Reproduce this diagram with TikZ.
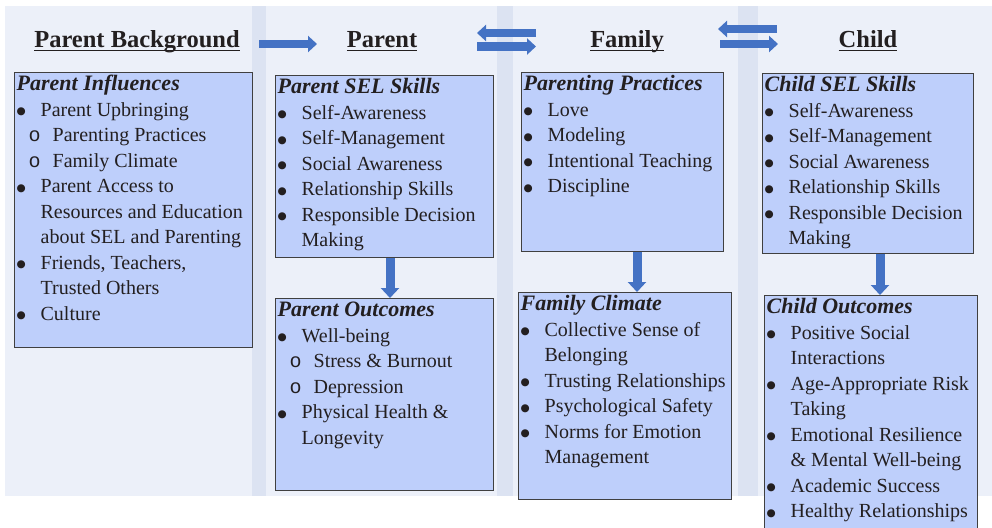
\documentclass[tikz,border=0pt]{standalone}
\usepackage{fontspec}
\setmainfont{Liberation Serif}
\newfontfamily\subfont{Liberation Mono}
\newfontfamily\dotfont{DejaVu Sans}
\usetikzlibrary{arrows.meta}
\definecolor{panelbg}{RGB}{236,240,249}
\definecolor{stripbg}{RGB}{220,227,242}
\definecolor{boxfill}{RGB}{190,207,251}
\definecolor{boxline}{RGB}{64,64,64}
\definecolor{arrowblue}{RGB}{68,114,196}
\definecolor{inktext}{RGB}{35,31,32}
\newcommand\bodyfont{\fontsize{20}{25.5}\selectfont}
\newcommand\ttl[1]{{\fontsize{22}{25.5}\selectfont\bfseries\itshape\strut #1}\par}
\newcommand\bigbul{\raisebox{1.5pt}{\dotfont\fontsize{10.5}{12}\selectfont ●}}
\newcommand\bi[1]{\makebox[24pt][l]{\bigbul}#1\par}
\newcommand\bc[1]{\hspace*{24pt}#1\par}
\newcommand\si[1]{\hspace*{12pt}\makebox[24pt][l]{\subfont o}#1\par}
\newcommand\hdr[1]{\setbox0\hbox{#1}\rlap{\rule[-3pt]{\wd0}{1.4pt}}\box0}
\newcommand\boxtext[3]{\parbox[t][#2][t]{#1}{\bodyfont #3}}
\begin{document}
\begin{tikzpicture}[x=1pt,y=-1pt,
  box/.style={draw=boxline, line width=1.3pt, fill=boxfill, inner xsep=2pt, inner ysep=0pt, anchor=north west, text=inktext},
  hdrs/.style={anchor=base, font=\fontsize{24.5}{29}\selectfont\bfseries, text=inktext, inner sep=0pt},
  harrow/.style={draw=arrowblue, line width=8.5pt, -{Triangle[length=9pt,width=16pt]}},
  varrow/.style={draw=arrowblue, line width=9pt, -{Triangle[length=10pt,width=18pt]}}]
\useasboundingbox (0,0) rectangle (992,527);
\clip (0,0) rectangle (992,527);
% background panels
\fill[panelbg] (5,6) rectangle (992,496);
\fill[stripbg] (252,6) rectangle (266,496);
\fill[stripbg] (497,6) rectangle (513,496);
\fill[stripbg] (738,6) rectangle (758,496);
% headers
\node[hdrs] (hpb) at (137,48) {\hdr{Parent Background}};
\node[hdrs] (hpa) at (382,48) {\hdr{Parent}};
\node[hdrs] (hfa) at (627,48) {\hdr{Family}};
\node[hdrs] (hch) at (868,48) {\hdr{Child}};
% header arrows
\coordinate (a1s) at (259,44); \coordinate (a1e) at (317,44);
\draw[harrow] (a1s) -- (a1e);
\coordinate (a2ts) at (536,33); \coordinate (a2te) at (477,33);
\coordinate (a2bs) at (477,46.5); \coordinate (a2be) at (536,46.5);
\draw[harrow] (a2ts) -- (a2te);
\draw[harrow] (a2bs) -- (a2be);
\coordinate (a3ts) at (777,29); \coordinate (a3te) at (718,29);
\coordinate (a3bs) at (720,44); \coordinate (a3be) at (778,44);
\draw[harrow] (a3ts) -- (a3te);
\draw[harrow] (a3bs) -- (a3be);
% boxes
\node[box] (pi) at (14,72) {\boxtext{234pt}{275pt}{%
\ttl{Parent Influences}
\bi{Parent Upbringing}
\si{Parenting Practices}
\si{Family Climate}
\bi{Parent Access to}
\bc{Resources and Education}
\bc{about SEL and Parenting}
\bi{Friends, Teachers,}
\bc{Trusted Others}
\bi{Culture}}};
\node[box] (pss) at (275,75) {\boxtext{214pt}{182pt}{%
\ttl{Parent SEL Skills}
\bi{Self-Awareness}
\bi{Self-Management}
\bi{Social Awareness}
\bi{Relationship Skills}
\bi{Responsible Decision}
\bc{Making}}};
\node[box] (po) at (275,298) {\boxtext{214pt}{192pt}{%
\ttl{Parent Outcomes}
\bi{Well-being}
\si{Stress \& Burnout}
\si{Depression}
\bi{Physical Health \&}
\bc{Longevity}}};
\node[box] (pp) at (521,72) {\boxtext{198pt}{179pt}{%
\ttl{Parenting Practices}
\bi{Love}
\bi{Modeling}
\bi{Intentional Teaching}
\bi{Discipline}}};
\node[box] (fc) at (518,292) {\boxtext{209pt}{207pt}{%
\ttl{Family Climate}
\bi{Collective Sense of}
\bc{Belonging}
\bi{Trusting Relationships}
\bi{Psychological Safety}
\bi{Norms for Emotion}
\bc{Management}}};
\node[box] (css) at (762,73) {\boxtext{207pt}{180pt}{%
\ttl{Child SEL Skills}
\bi{Self-Awareness}
\bi{Self-Management}
\bi{Social Awareness}
\bi{Relationship Skills}
\bi{Responsible Decision}
\bc{Making}}};
\node[box] (co) at (764,295) {\boxtext{209pt}{240pt}{%
\ttl{Child Outcomes}
\bi{Positive Social}
\bc{Interactions}
\bi{Age-Appropriate Risk}
\bc{Taking}
\bi{Emotional Resilience}
\bc{\& Mental Well-being}
\bi{Academic Success}
\bi{Healthy Relationships}}};
% down arrows
\coordinate (x1) at (390,0);
\coordinate (x2) at (637,0);
\coordinate (x3) at (880,0);
\draw[varrow] (pss.south -| x1) -- (po.north -| x1);
\draw[varrow] (pp.south -| x2) -- (fc.north -| x2);
\draw[varrow] (css.south -| x3) -- (co.north -| x3);
\end{tikzpicture}
\end{document}
